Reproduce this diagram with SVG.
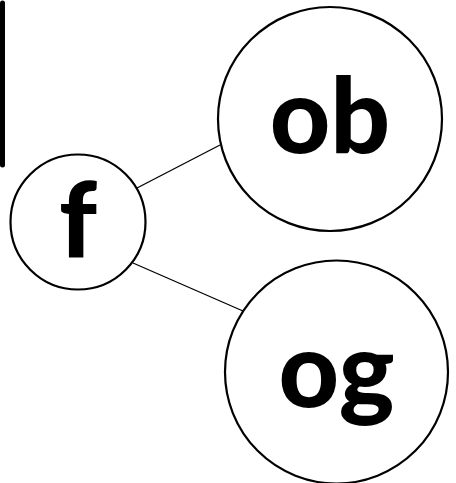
<svg xmlns="http://www.w3.org/2000/svg" width="456" height="483" viewBox="0 0 456 483">
<style>
.node circle{fill:#fff;stroke:#000;stroke-width:2.2}
.node text{font-family:Lato,"Liberation Sans",sans-serif;font-weight:900;font-size:105px;text-anchor:middle;fill:#000}
.edge{stroke:#000;stroke-width:1.3;fill:none}
</style>
<rect width="456" height="483" fill="#fff"/>
<line x1="2.5" y1="3" x2="2.5" y2="165" stroke="#000" stroke-width="5" stroke-linecap="round"/>
<g id="connectors">
<line class="edge" x1="137" y1="188" x2="220" y2="145"/>
<line class="edge" x1="133" y1="263" x2="243" y2="311"/>
</g>
<g id="node-f" class="node">
<circle cx="78" cy="222" r="67.5"/>
<text x="78" y="258">f</text>
</g>
<g id="node-ob" class="node">
<circle cx="330" cy="119" r="112"/>
<text x="330" y="153">ob</text>
</g>
<g id="node-og" class="node">
<circle cx="336.5" cy="372" r="111.5"/>
<text x="336.5" y="407">og</text>
</g>
</svg>
